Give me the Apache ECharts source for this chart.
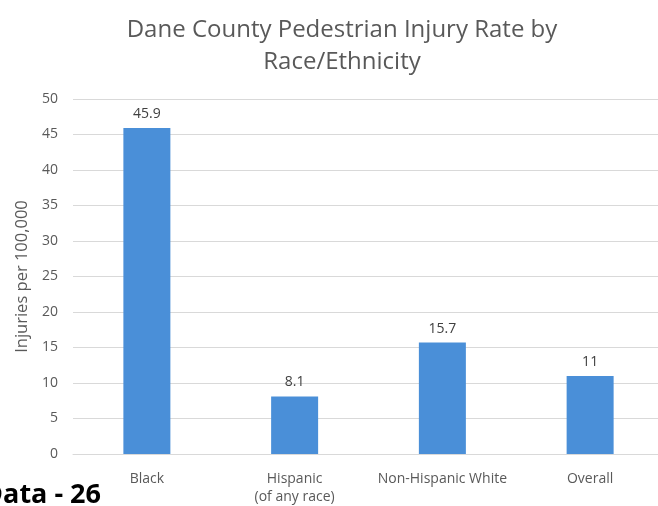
<!DOCTYPE html>
<html><head><meta charset="utf-8">
<script src="https://cdn.jsdelivr.net/npm/echarts@6/dist/echarts.min.js"></script>
<style>html,body{margin:0;padding:0;background:#fff;}#c{width:658px;height:506px;}</style>
</head><body><div id="c"></div>
<script>
const categories = ['Black', 'Hispanic\n(of any race)', 'Non-Hispanic White', 'Overall'];
const rates = [45.9, 8.1, 15.7, 11];
const rateLabels = ['45.9', '8.1', '15.7', '11'];
const yTicks = [0, 5, 10, 15, 20, 25, 30, 35, 40, 45, 50];

const F = '"Open Sans", sans-serif';
const chart = echarts.init(document.getElementById('c'));
chart.setOption({
  animation: false,
  title: {
    text: 'Dane County Pedestrian Injury Rate by\nRace/Ethnicity',
    left: 337, top: 9, textAlign: 'center',
    textStyle: { fontFamily: F, fontSize: 24, fontWeight: 'normal', color: '#595959', lineHeight: 32 }
  },
  graphic: [{
    type: 'text', x: 101, y: 495,
    style: { text: 'Data - 26', font: 'bold 27px ' + F, fill: '#000', textAlign: 'right', textVerticalAlign: 'middle' }
  }],
  grid: { left: 73, top: 99, width: 591, height: 355, outerBoundsMode: 'none', containLabel: false },
  xAxis: {
    type: 'category', data: categories,
    axisLine: { lineStyle: { color: '#d9d9d9' } },
    axisTick: { show: false },
    axisLabel: { interval: 0, fontFamily: F, fontSize: 14, color: '#595959', margin: 16, lineHeight: 18 }
  },
  yAxis: {
    type: 'value', min: 0, max: 50, interval: 5,
    name: 'Injuries per 100,000', nameLocation: 'middle', nameGap: 41, nameRotate: 90,
    nameTextStyle: { fontFamily: F, fontSize: 16.5, color: '#595959' },
    axisLabel: { fontFamily: F, fontSize: 14, color: '#595959', margin: 15,
      formatter: v => yTicks.includes(v) ? String(v) : '' },
    splitLine: { lineStyle: { color: '#d9d9d9' } },
    axisLine: { show: false }, axisTick: { show: false }
  },
  series: [{
    type: 'bar', data: rates, barWidth: 47,
    itemStyle: { color: '#4a8fd8' },
    label: { show: true, position: 'top', distance: 7, fontFamily: F, fontSize: 14, color: '#404040',
      formatter: p => rateLabels[p.dataIndex] }
  }]
});
</script></body></html>
